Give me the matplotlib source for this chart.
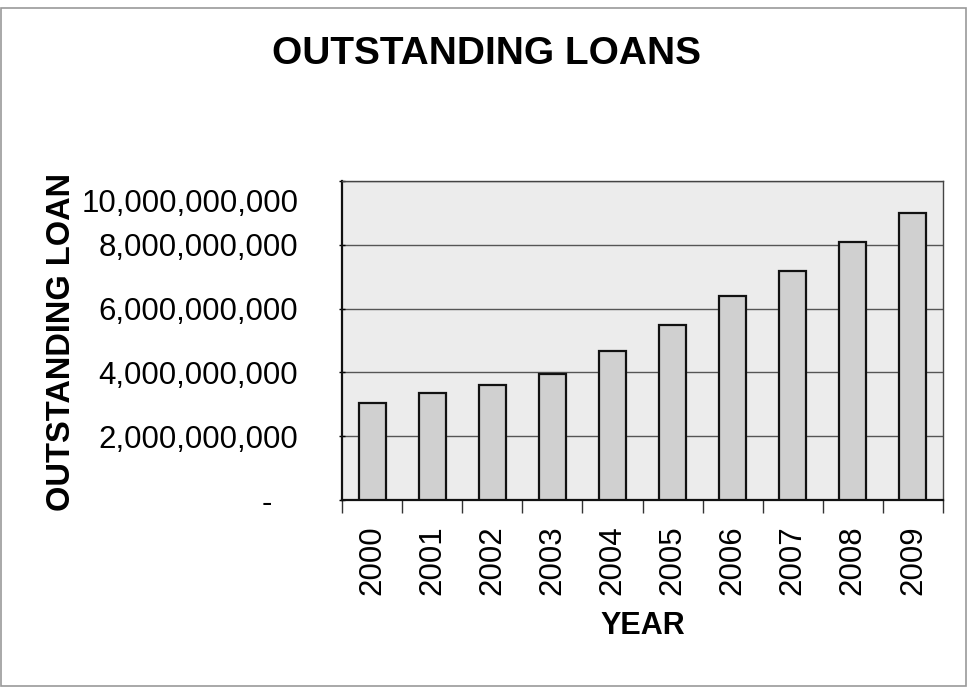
import matplotlib
matplotlib.use("Agg")
import matplotlib.pyplot as plt
import matplotlib.transforms as mtransforms
from matplotlib.patches import Rectangle
from matplotlib.ticker import FuncFormatter, FixedLocator

years = ["2000", "2001", "2002", "2003", "2004", "2005", "2006", "2007", "2008", "2009"]
loans = [3.03e9, 3.34e9, 3.60e9, 3.95e9, 4.67e9, 5.49e9, 6.39e9, 7.19e9, 8.10e9, 8.99e9]
y_ticks = [0, 2e9, 4e9, 6e9, 8e9, 10e9]

plt.rcParams['font.family'] = ['Liberation Sans', 'DejaVu Sans']

def fmt(v, pos):
    if v == 0:
        return "-   "
    return f"{v:,.0f}"

fig = plt.figure(figsize=(9.69, 6.89), dpi=100)
fig.patch.set_facecolor("white")
ax = fig.add_axes([342 / 969, 1 - 500 / 689, 601 / 969, 319 / 689])
ax.set_facecolor("#ececec")

x = list(range(len(years)))
ax.bar(x, loans, width=0.45, color="#d0d0d0", edgecolor="#111111", linewidth=1.6, zorder=3)

ax.set_xlim(-0.5, len(years) - 0.5)
ax.set_ylim(0, 10e9)
ax.set_yticks(y_ticks)
ax.yaxis.set_major_formatter(FuncFormatter(fmt))
ax.set_xticks(x)
ax.set_xticklabels(years, rotation=90)
ax.xaxis.set_minor_locator(FixedLocator([i - 0.5 for i in range(len(years) + 1)]))

ax.grid(axis="y", color="#555555", linewidth=1.0, zorder=1)
ax.tick_params(axis="x", which="major", length=0, pad=18, labelsize=22.5)
ax.tick_params(axis="x", which="minor", length=9, width=1, color="#333333", direction="out")
ax.tick_params(axis="y", length=5, width=1, direction="inout", pad=29, labelsize=22.5)

for side in ["left", "bottom"]:
    ax.spines[side].set_linewidth(1.6)
    ax.spines[side].set_color("#111111")
for side in ["top", "right"]:
    ax.spines[side].set_linewidth(1.0)
    ax.spines[side].set_color("#444444")

ax.set_xlabel("YEAR", fontsize=22, fontweight="bold", va="center")
ax.xaxis.set_label_coords(0.5, (500 - 626) / 319)
ax.set_ylabel("OUTSTANDING LOAN", fontsize=23.5, fontweight="bold", va="center")
ax.yaxis.set_label_coords((62 - 342) / 601, (500 - 342) / 319)

fig.text(486 / 969, 1 - 54 / 689, "OUTSTANDING LOANS", fontsize=28,
         fontweight="bold", ha="center", va="center")

# top label sits a bit lower in the original
fig.canvas.draw()
shift = mtransforms.ScaledTranslation(0, -19 / 100, fig.dpi_scale_trans)
for tick in ax.yaxis.get_major_ticks():
    if abs(tick.get_loc() - 10e9) < 1:
        tick.label1.set_transform(tick.label1.get_transform() + shift)

fig.patches.append(Rectangle((1 / 969, 3 / 689), 965 / 969, 678 / 689,
                             transform=fig.transFigure, fill=False,
                             edgecolor="#999999", linewidth=1.2))

fig.savefig("out.png", dpi=100)
